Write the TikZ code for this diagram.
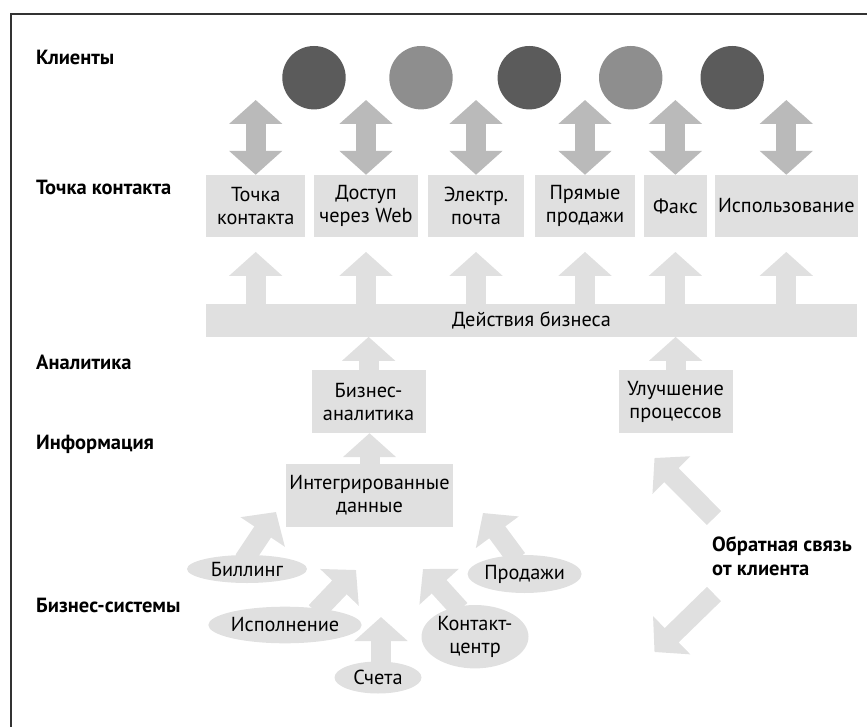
\documentclass[tikz,border=0pt]{standalone}
\usepackage{fontspec}
\setmainfont{PT Sans}
\usetikzlibrary{arrows.meta,shapes.geometric,backgrounds}
\definecolor{boxgray}{HTML}{E0E0E0}
\definecolor{dblgray}{HTML}{BABABA}
\definecolor{darkclient}{HTML}{5B5B5B}
\definecolor{lightclient}{HTML}{8E8E8E}

\begin{document}
\begin{tikzpicture}[x=1pt,y=-1pt]
  \useasboundingbox (0,0) rectangle (867,727);
  \draw[line width=2pt, black!80] (11,727) -- (11,14.5) -- (867,14.5);

  \tikzset{level/.style={anchor=west, inner sep=0, font=\bfseries\fontsize{20.5}{24}\selectfont},
           touch/.style={fill=boxgray, minimum height=62pt, inner sep=0, align=center, font=\fontsize{20.3}{23}\selectfont},
           client/.style={circle, minimum size=63.4pt, inner sep=0},
           source/.style={ellipse, fill=boxgray, inner sep=0, align=center, font=\fontsize{20.3}{23}\selectfont},
           dbl arc/.style={line width=20pt, draw=dblgray, {Triangle[width=52pt,length=24pt]}-{Triangle[width=52pt,length=24pt]}},
           fat arc/.style={line width=20pt, draw=boxgray, -{Triangle[width=52pt,length=24pt]}}}

  % levels
  \node[level] (lclients) at (36,57) {Клиенты};
  \node[level] (ltouch) at (36,187) {Точка контакта};
  \node[level] (lanalyt) at (36,362) {Аналитика};
  \node[level] (linfo) at (36,444) {Информация};
  \node[level] (lsys) at (36,605) {Бизнес-системы};

  % clients
  \node[client, fill=darkclient] (c1) at (314,77.7) {};
  \node[client, fill=lightclient] (c2) at (421,77.7) {};
  \node[client, fill=darkclient] (c3) at (529.3,77.7) {};
  \node[client, fill=lightclient] (c4) at (630.7,77.7) {};
  \node[client, fill=darkclient] (c5) at (732.2,77.7) {};

  % touch points
  \node[touch, minimum width=98.7pt] (tp1) at (255.7,206) {Точка\\контакта};
  \node[touch, minimum width=104.4pt] (tp2) at (366,206) {Доступ\\через Web};
  \node[touch, minimum width=96.5pt] (tp3) at (476,206) {Электр.\\почта};
  \node[touch, minimum width=99.5pt] (tp4) at (585,206) {Прямые\\продажи};
  \node[touch, minimum width=63.6pt] (tp5) at (675.4,206) {Факс};
  \node[touch, minimum width=142.6pt] (tp6) at (786.3,206) {Использование};

  \node[touch, minimum width=650.7pt, minimum height=32.7pt] (biz) at (531.5,320.3) {Действия бизнеса};

  \node[touch, minimum width=114pt, minimum height=63pt] (ba) at (368.6,401.5) {Бизнес-\\аналитика};
  \node[touch, minimum width=114pt, minimum height=63pt] (pi) at (675.6,401.5) {Улучшение\\процессов};
  \node[touch, minimum width=167pt, minimum height=63pt] (data) at (369.5,495.5) {Интегрированные\\данные};

  % systems
  \node[source, minimum width=120pt, minimum height=28pt] (bill) at (247,569) {Биллинг};
  \node[source, minimum width=146pt, minimum height=36.6pt] (exec) at (285,625) {Исполнение};
  \node[source, minimum width=87pt, minimum height=32pt] (inv) at (378,677.5) {Счета};
  \node[source, minimum width=107pt, minimum height=63.4pt] (cc) at (475,636.7) {Контакт-\\центр};
  \node[source, minimum width=105pt, minimum height=38pt] (sales) at (524.6,574) {Продажи};

  \node[level, align=left] (fb) at (712,556) {Обратная связь\\от клиента};

  \foreach \i in {1,...,6}
    \coordinate (k\i) at (tp\i.north |- 0,100);
  \coordinate (tbill) at (276,512);
  \coordinate (texec) at (356,570);
  \coordinate (tinv) at (381,617);
  \coordinate (tcc) at (423,569);
  \coordinate (tsales) at (483,513);
  \coordinate (fbupa) at (714,518);
  \coordinate (fbupb) at (654.5,458);
  \coordinate (fbdna) at (714,594);
  \coordinate (fbdnb) at (654.5,652);

  \begin{pgfonlayer}{background}
    \foreach \i in {1,...,6} {
      \draw[dbl arc] (k\i) -- (tp\i.north);
      \draw[fat arc, shorten >=14.7pt] (biz.north -| tp\i.south) -- (tp\i.south);
    }
    \draw[fat arc] (ba.north) -- (ba.north |- biz.south);
    \draw[fat arc] (pi.north) -- (pi.north |- biz.south);
    \draw[fat arc] (data.north) -- (data.north |- ba.south);

    \draw[fat arc] ([xshift=-3pt,yshift=9pt]bill.center) -- (tbill);
    \draw[fat arc] ([xshift=31pt,yshift=13pt]exec.center) -- (texec);
    \draw[fat arc] ([xshift=3pt,yshift=12pt]inv.center) -- (tinv);
    \draw[fat arc] ([xshift=-15pt,yshift=27pt]cc.center) -- (tcc);
    \draw[fat arc] ([xshift=-7.6pt,yshift=15pt]sales.center) -- (tsales);

    \draw[fat arc] (fbupa) -- (fbupb);
    \draw[fat arc] (fbdna) -- (fbdnb);
  \end{pgfonlayer}
\end{tikzpicture}
\end{document}
